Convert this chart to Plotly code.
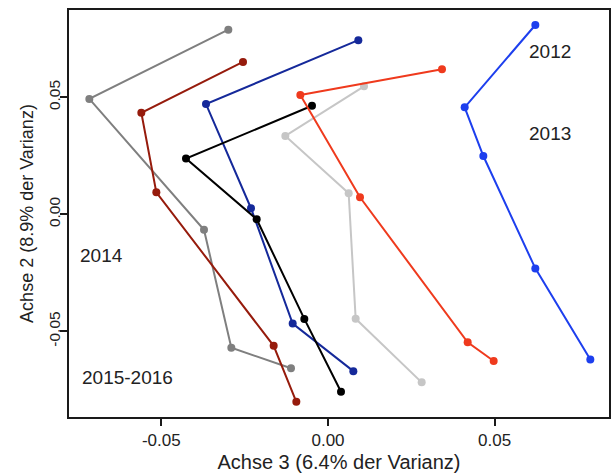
import plotly.graph_objects as go

# Ordination trajectories: Achse 3 (x) vs Achse 2 (y), one path per series
series_names = ["grau", "dunkelrot", "dunkelblau", "schwarz", "hellgrau", "rot", "blau"]
series_colors = ["#7f7f7f", "#961b0c", "#15299a", "#000000", "#c6c6c6", "#ef3a1d", "#1d3fee"]

x_grau = [-0.0299, -0.0716, -0.0372, -0.0290, -0.0111]
y_grau = [0.0789, 0.0493, -0.0066, -0.0570, -0.0658]

x_dunkelrot = [-0.0255, -0.0560, -0.0515, -0.0163, -0.0095]
y_dunkelrot = [0.0651, 0.0434, 0.0094, -0.0562, -0.0801]

x_dunkelblau = [0.0091, -0.0366, -0.0231, -0.0106, 0.0076]
y_dunkelblau = [0.0744, 0.0471, 0.0026, -0.0467, -0.0670]

x_schwarz = [-0.0048, -0.0426, -0.0214, -0.0071, 0.0039]
y_schwarz = [0.0464, 0.0238, -0.0021, -0.0447, -0.0758]

x_hellgrau = [0.0108, -0.0128, 0.0062, 0.0083, 0.0281]
y_hellgrau = [0.0547, 0.0335, 0.0090, -0.0446, -0.0718]

x_rot = [0.0342, -0.0083, 0.0096, 0.0419, 0.0497]
y_rot = [0.0620, 0.0510, 0.0073, -0.0547, -0.0627]

x_blau = [0.0622, 0.0410, 0.0466, 0.0622, 0.0787]
y_blau = [0.0809, 0.0457, 0.0249, -0.0231, -0.0620]

xs = [x_grau, x_dunkelrot, x_dunkelblau, x_schwarz, x_hellgrau, x_rot, x_blau]
ys = [y_grau, y_dunkelrot, y_dunkelblau, y_schwarz, y_hellgrau, y_rot, y_blau]

# Period labels placed inside the plot
label_texts = ["2012", "2013", "2014", "2015-2016"]
label_x = [0.0667, 0.0667, -0.0679, -0.0601]
label_y = [0.0694, 0.0347, -0.0175, -0.0699]

x_ticks = [-0.05, 0.0, 0.05]
x_ticktext = ["-0.05", "0.00", "0.05"]
y_ticks = [-0.05, 0.0, 0.05]
y_ticktext = ["-0.05", "0.00", "0.05"]

FONT = "Liberation Sans, Arial, sans-serif"
TEXT = "#222222"

fig = go.Figure()
for name, color, xv, yv in zip(series_names, series_colors, xs, ys):
    fig.add_trace(go.Scatter(
        x=xv, y=yv, mode="lines+markers", name=name,
        line=dict(color=color, width=2),
        marker=dict(color=color, size=8),
        showlegend=False,
    ))

for t, lx, ly in zip(label_texts, label_x, label_y):
    fig.add_annotation(x=lx, y=ly, text=t, showarrow=False,
                       font=dict(family=FONT, size=19, color=TEXT))

axis_common = dict(
    showgrid=False, zeroline=False,
    showline=True, linecolor="#1a1a1a", linewidth=2, mirror=True,
    ticks="outside", ticklen=7, tickwidth=1.5, tickcolor="#1a1a1a",
)

fig.update_layout(
    width=614, height=474,
    margin=dict(l=69, r=3, t=10, b=57),
    paper_bgcolor="white", plot_bgcolor="white",
    xaxis=dict(range=[-0.0777, 0.0843], tickvals=x_ticks, ticktext=x_ticktext,
               tickfont=dict(family=FONT, size=17, color=TEXT),
               title=dict(text="Achse 3 (6.4% der Varianz)", standoff=6,
                          font=dict(family=FONT, size=20, color=TEXT)),
               **axis_common),
    yaxis=dict(range=[-0.0866, 0.0873], tickvals=y_ticks, ticktext=y_ticktext,
               tickangle=-90, ticklabelstandoff=-6,
               tickfont=dict(family=FONT, size=15.5, color=TEXT),
               title=dict(text="Achse 2 (8.9% der Varianz)", standoff=7,
                          font=dict(family=FONT, size=18, color=TEXT)),
               **axis_common),
)

fig.write_html("out.html")
